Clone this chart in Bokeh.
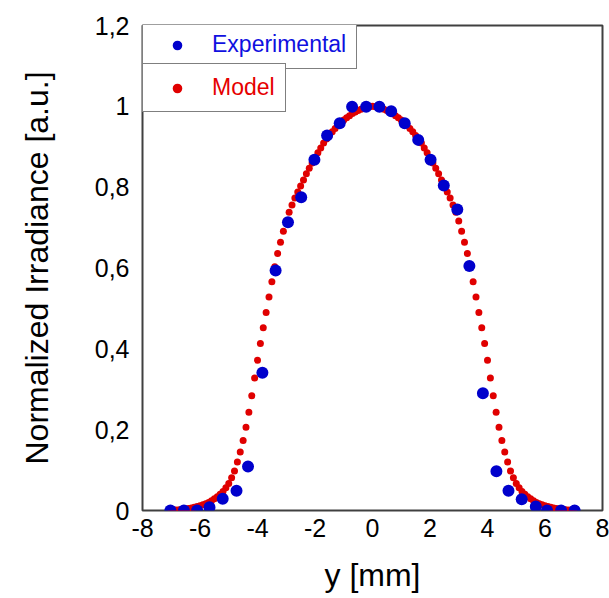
from bokeh.plotting import figure
from bokeh.models import ColumnDataSource, Range1d, FixedTicker, CustomJSTickFormatter, Legend, LegendItem
from bokeh.embed import file_html
from bokeh.resources import INLINE
import numpy as np

exp_y_mm = [-7.03, -6.56, -6.10, -5.67, -5.21, -4.73, -4.33, -3.83, -3.37, -2.94, -2.48,
            -2.02, -1.58, -1.14, -0.71, -0.22, 0.24, 0.65, 1.12, 1.59, 2.02, 2.48,
            2.95, 3.37, 3.84, 4.31, 4.73, 5.19, 5.68, 6.07, 6.56, 7.03]
exp_irr = [0.0, 0.0, 0.0, 0.008, 0.029, 0.049, 0.109, 0.341, 0.594, 0.713, 0.775,
           0.868, 0.928, 0.958, 0.999, 0.999, 0.999, 0.988, 0.958, 0.917, 0.868, 0.804,
           0.745, 0.605, 0.290, 0.097, 0.049, 0.028, 0.010, 0.0, 0.0, 0.0]

model_y_mm = np.round(np.arange(-70, 71) / 10.0, 1)
model_irr = [
    0.000, 0.001, 0.001, 0.002, 0.003, 0.004, 0.005, 0.006, 0.008, 0.010,
    0.012, 0.014, 0.017, 0.020, 0.024, 0.029, 0.034, 0.040, 0.047, 0.056,
    0.067, 0.081, 0.098, 0.120, 0.145, 0.173, 0.206, 0.243, 0.284, 0.328,
    0.372, 0.413, 0.452, 0.490, 0.528, 0.566, 0.603, 0.636, 0.664, 0.691,
    0.716, 0.738, 0.756, 0.773, 0.788, 0.803, 0.818, 0.833, 0.847, 0.860,
    0.872, 0.885, 0.897, 0.909, 0.919, 0.928, 0.937, 0.945, 0.953, 0.960,
    0.966, 0.972, 0.977, 0.982, 0.986, 0.990, 0.993, 0.996, 0.998, 0.999,
    1.000,
    0.999, 0.998, 0.996, 0.993, 0.990, 0.986, 0.982, 0.977, 0.972, 0.966,
    0.960, 0.953, 0.945, 0.937, 0.928, 0.919, 0.909, 0.897, 0.885, 0.872,
    0.860, 0.847, 0.833, 0.818, 0.803, 0.788, 0.773, 0.756, 0.738, 0.716,
    0.691, 0.664, 0.636, 0.603, 0.566, 0.528, 0.490, 0.452, 0.413, 0.372,
    0.328, 0.284, 0.243, 0.206, 0.173, 0.145, 0.120, 0.098, 0.081, 0.067,
    0.056, 0.047, 0.040, 0.034, 0.029, 0.024, 0.020, 0.017, 0.014, 0.012,
    0.010, 0.008, 0.006, 0.005, 0.004, 0.003, 0.002, 0.001, 0.001, 0.000,
]

x_ticks = [-8, -6, -4, -2, 0, 2, 4, 6, 8]
y_ticks = [0, 0.2, 0.4, 0.6, 0.8, 1.0, 1.2]

FONT = "Liberation Sans"
BLUE = "#0000cc"
RED = "#e00000"

p = figure(width=609, height=598, output_backend="svg", toolbar_location=None,
           x_range=Range1d(-8, 8), y_range=Range1d(0, 1.2),
           min_border_left=142, min_border_right=7, min_border_top=25, min_border_bottom=88)
p.background_fill_color = "white"
p.border_fill_color = "white"
p.outline_line_color = "#404040"
p.outline_line_width = 2
p.xgrid.visible = False
p.ygrid.visible = False

for ax in (p.xaxis[0], p.yaxis[0]):
    ax.axis_line_color = None
    ax.major_tick_line_color = None
    ax.minor_tick_line_color = None
    ax.major_tick_in = 0
    ax.major_tick_out = 0
    ax.major_label_text_font = FONT
    ax.major_label_text_font_size = "25px"
    ax.major_label_text_color = "black"
    ax.axis_label_text_font = FONT
    ax.axis_label_text_font_size = "32px"
    ax.axis_label_text_font_style = "normal"
    ax.axis_label_text_color = "black"

p.xaxis.ticker = FixedTicker(ticks=x_ticks)
p.yaxis.ticker = FixedTicker(ticks=y_ticks)
p.yaxis.formatter = CustomJSTickFormatter(code="return (Math.round(tick*10)/10).toString().replace('.', ',');")
p.xaxis.formatter = CustomJSTickFormatter(code="return (Math.round(tick*10)/10).toString();")
p.xaxis.axis_label = "y [mm]"
p.yaxis.axis_label = "Normalized Irradiance [a.u.]"
p.xaxis.major_label_standoff = 8
p.yaxis.major_label_standoff = 13
p.xaxis.axis_label_standoff = 17
p.yaxis.axis_label_standoff = 37

model_src = ColumnDataSource(dict(x=model_y_mm, y=model_irr))
exp_src = ColumnDataSource(dict(x=exp_y_mm, y=exp_irr))

r_model = p.scatter("x", "y", source=model_src, size=7, fill_color=RED, line_color=None)
r_exp = p.scatter("x", "y", source=exp_src, size=12, fill_color=BLUE, line_color=None)

def make_legend(item, color, y):
    lg = Legend(items=[item], location=(0, y), orientation="vertical",
                border_line_color="black", border_line_width=1.5,
                background_fill_color="white", background_fill_alpha=1.0,
                padding=10, margin=0, spacing=0,
                glyph_width=48, glyph_height=24, label_height=24,
                label_standoff=11,
                label_text_font=FONT, label_text_font_size="23px",
                label_text_color=color)
    return lg

leg1 = make_legend(LegendItem(label="Experimental", renderers=[r_exp]), "#1010e0", 441)
leg2 = make_legend(LegendItem(label="Model", renderers=[r_model]), "#e60000", 398)
p.add_layout(leg1, "center")
p.add_layout(leg2, "center")

open("out.html", "w").write(file_html(p, INLINE))
